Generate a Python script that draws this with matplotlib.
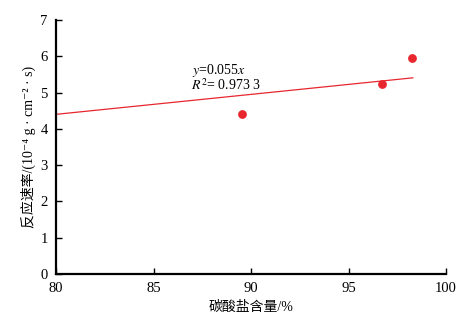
import numpy as np
import matplotlib
matplotlib.use("Agg")
import matplotlib.pyplot as plt

plt.rcParams['font.family'] = ['Liberation Serif', 'Noto Sans CJK SC', 'DejaVu Serif']
plt.rcParams['mathtext.fontset'] = 'stix'

# 数据
carbonate = [89.55, 96.7, 98.25]
rate = [4.42, 5.23, 5.95]
slope = 0.055
fit_range = [80, 98.3]
x_ticks = [80, 85, 90, 95, 100]
y_ticks = [0, 1, 2, 3, 4, 5, 6, 7]

fig = plt.figure(figsize=(4.64, 3.23), dpi=100)
ax = fig.add_axes([56 / 464, 1 - 274 / 323, 390 / 464, 254 / 323])

# 拟合直线
xf = np.array(fit_range)
ax.plot(xf, slope * xf, color="#e8262e", lw=0.9)
# 数据点
ax.scatter(carbonate, rate, color="#e8262e", s=28, zorder=3)

ax.text(87.0, 5.62, "$y$=0.055$x$", fontsize=10, va="center")
ax.text(86.9, 5.2, "$R^2$= 0.973 3", fontsize=10, va="center")

ax.set_xlim(80, 100)
ax.set_ylim(0, 7)
ax.set_xticks(x_ticks)
ax.set_yticks(y_ticks)
ax.tick_params(direction="in", length=4, width=1, labelsize=10.5, pad=6)
for s in ["top", "right"]:
    ax.spines[s].set_visible(False)
for s in ["left", "bottom"]:
    ax.spines[s].set_linewidth(1.6)

ax.set_xlabel("碳酸盐含量/%", fontsize=10, labelpad=4)
ax.set_ylabel("反应速率/(10⁻⁴ g · cm⁻² · s)", fontsize=10, labelpad=3)

fig.savefig("out.png", dpi=100)
